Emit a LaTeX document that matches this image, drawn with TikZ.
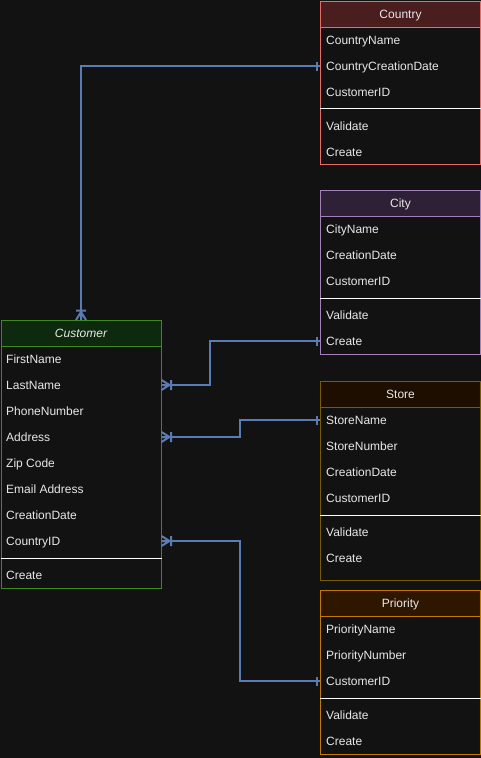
\documentclass[tikz,border=0pt]{standalone}
\usepackage{fontspec}
\setmainfont{Liberation Sans}
\definecolor{bgc}{HTML}{121212}
\definecolor{txt}{HTML}{E8E8E8}
\definecolor{conn}{HTML}{5A7CB2}
\definecolor{coB}{HTML}{EA6B66}\definecolor{coH}{HTML}{4A1E1E}
\definecolor{ciB}{HTML}{A680B8}\definecolor{ciH}{HTML}{2E2137}
\definecolor{stB}{HTML}{7A5C00}\definecolor{stH}{HTML}{1E0E00}
\definecolor{prB}{HTML}{C47A00}\definecolor{prH}{HTML}{2F1600}
\definecolor{cuB}{HTML}{3F8A1A}\definecolor{cuH}{HTML}{0E2A0E}
\newcommand\erbox[7]{%
  \node[draw=#5, fill=bgc, line width=1pt, minimum width=160pt, minimum height=#4pt,
        anchor=north west, inner sep=0] (#1) at (#2,#3) {};
  \node[draw=#5, fill=#6, line width=1pt, minimum width=160pt, minimum height=26pt,
        anchor=north west, inner sep=0, text=txt, text height=10pt, text depth=1.4pt,
        font=\fontsize{12}{14}\selectfont]
        (#1-h) at (#1.north west) {#7};}
\newcommand\crowfoot[2]{\begin{scope}[shift={(#1)}, rotate=#2]
  \draw[connline] (0,-5) -- (8,0) -- (0,5) (0,0) -- (8,0) (9.5,-5) -- (9.5,5);
  \end{scope}}
\newcommand\onebar[2]{\begin{scope}[shift={(#1)}, rotate=#2]
  \draw[connline] (3.5,-4.5) -- (3.5,4.5);
  \end{scope}}
\begin{document}
\begin{tikzpicture}[x=1pt,y=-1pt,
  rowtext/.style={anchor=west, inner sep=0, text=txt, text height=10pt, text depth=1.4pt,
                  font=\fontsize{12}{14}\selectfont},
  sep/.style={draw=white, line width=1pt},
  connline/.style={draw=conn, line width=2pt}]
\fill[bgc] (0,0) rectangle (481,758);
\useasboundingbox (0,0) rectangle (481,758);

% Country
\erbox{country}{320}{1}{163}{coB}{coH}{Country}
\node[rowtext] (co1) at (326,40) {CountryName};
\node[rowtext] (co2) at (326,66) {CountryCreationDate};
\node[rowtext] (co3) at (326,92) {CustomerID};
\draw[sep] (country.west |- 0,108.5) -- (country.east |- 0,108.5);
\node[rowtext] (co4) at (326,126) {Validate};
\node[rowtext] (co5) at (326,152) {Create};

% City
\erbox{city}{320}{190}{164}{ciB}{ciH}{City}
\node[rowtext] (ci1) at (326,229) {CityName};
\node[rowtext] (ci2) at (326,255) {CreationDate};
\node[rowtext] (ci3) at (326,281) {CustomerID};
\draw[sep] (city.west |- 0,298) -- (city.east |- 0,298);
\node[rowtext] (ci4) at (326,315) {Validate};
\node[rowtext] (ci5) at (326,341) {Create};

% Store
\erbox{store}{320}{381}{199}{stB}{stH}{Store}
\node[rowtext] (st1) at (326,420) {StoreName};
\node[rowtext] (st2) at (326,446) {StoreNumber};
\node[rowtext] (st3) at (326,472) {CreationDate};
\node[rowtext] (st4) at (326,498) {CustomerID};
\draw[sep] (store.west |- 0,515) -- (store.east |- 0,515);
\node[rowtext] (st5) at (326,532) {Validate};
\node[rowtext] (st6) at (326,558) {Create};

% Priority
\erbox{prio}{320}{590}{164}{prB}{prH}{Priority}
\node[rowtext] (pr1) at (326,629) {PriorityName};
\node[rowtext] (pr2) at (326,655) {PriorityNumber};
\node[rowtext] (pr3) at (326,681) {CustomerID};
\draw[sep] (prio.west |- 0,698) -- (prio.east |- 0,698);
\node[rowtext] (pr4) at (326,715) {Validate};
\node[rowtext] (pr5) at (326,741) {Create};

% Customer
\erbox{cust}{0.5}{320}{268}{cuB}{cuH}{\itshape Customer}
\node[rowtext] (cu1) at (6,359) {FirstName};
\node[rowtext] (cu2) at (6,385) {LastName};
\node[rowtext] (cu3) at (6,411) {PhoneNumber};
\node[rowtext] (cu4) at (6,437) {Address};
\node[rowtext] (cu5) at (6,463) {Zip Code};
\node[rowtext] (cu6) at (6,489) {Email Address};
\node[rowtext] (cu7) at (6,515) {CreationDate};
\node[rowtext] (cu8) at (6,541) {CountryID};
\draw[sep] (cust.west |- 0,558) -- (cust.east |- 0,558);
\node[rowtext] (cu9) at (6,575) {Create};

% connector end points
\coordinate (a1) at (cust.north);
\coordinate (b1) at (country.west |- co2);
\coordinate (a2) at (cust.east |- cu2);
\coordinate (b2) at (city.west |- ci5);
\coordinate (a3) at (cust.east |- cu4);
\coordinate (b3) at (store.west |- st1);
\coordinate (a4) at (cust.east |- cu8);
\coordinate (b4) at (prio.west |- pr3);
\coordinate (j2) at (210,0);
\coordinate (j3) at (240,0);

\draw[connline] (a1) |- (b1);
\draw[connline] (a2) -| (j2 |- b2) -- (b2);
\draw[connline] (a3) -| (j3 |- b3) -- (b3);
\draw[connline] (a4) -| (j3 |- b4) -- (b4);

\crowfoot{a1}{90}
\crowfoot{a2}{0}
\crowfoot{a3}{0}
\crowfoot{a4}{0}
\onebar{b1}{180}
\onebar{b2}{180}
\onebar{b3}{180}
\onebar{b4}{180}
\end{tikzpicture}
\end{document}
